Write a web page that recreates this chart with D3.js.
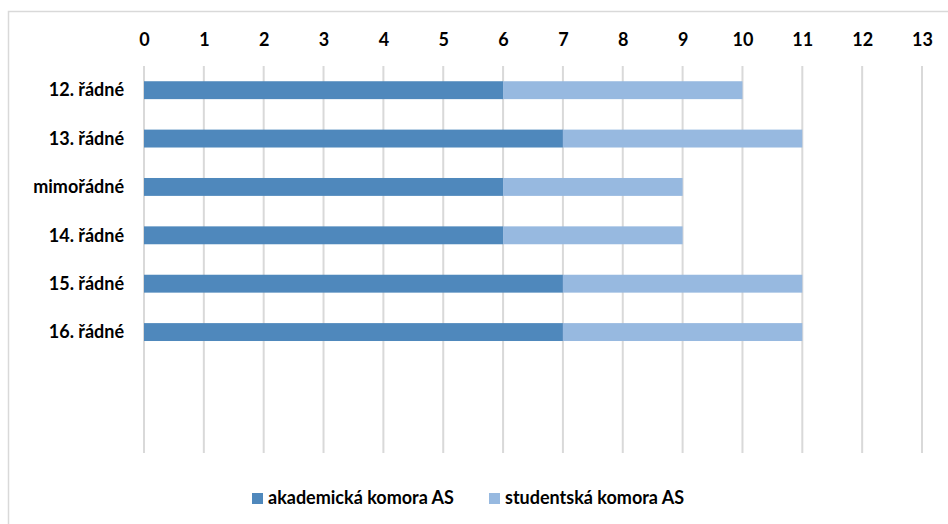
<!DOCTYPE html>
<html><head><meta charset="utf-8">
<script src="https://cdn.jsdelivr.net/npm/d3@7"></script>
<style>body{margin:0;background:#fff}svg{display:block}</style>
</head><body>
<svg id="c" width="948" height="524"></svg>
<script>
const categories = ["12. řádné","13. řádné","mimořádné","14. řádné","15. řádné","16. řádné","",""];
const akademicka = [6,7,6,6,7,7,null,null];
const studentska = [4,4,3,3,4,4,null,null];
const seriesNames = ["akademická komora AS","studentská komora AS"];
const colors = ["#4F88BC","#97B9E0"];
const ticks = d3.range(0,14);

const svg = d3.select("#c");
const font = "Lato, 'Open Sans', sans-serif";
const fs = 18;
svg.append("rect").attr("x",8.5).attr("y",11.5).attr("width",960).attr("height",540)
  .attr("fill","#fff").attr("stroke","#D9D9D9").attr("stroke-width",1.5);

const x = d3.scaleLinear().domain([0,13]).range([144,922]);
const y = d3.scaleBand().domain(d3.range(categories.length)).range([66,453]).paddingInner(0.63).paddingOuter(0.315);

const g = svg.append("g");
g.selectAll("line.grid").data(ticks).join("line").attr("class","grid")
  .attr("x1",d=>x(d)).attr("x2",d=>x(d)).attr("y1",66).attr("y2",453)
  .attr("stroke","#D9D9D9").attr("stroke-width",2);

const axis = d3.axisTop(x).tickValues(ticks).tickSize(0).tickPadding(0);
const ax = svg.append("g").attr("transform","translate(0,46)").call(axis);
ax.select(".domain").remove();
ax.selectAll("text").attr("font-family",font).attr("font-weight","bold").attr("font-size",fs).attr("fill","#000");

const rows = categories.map((c,i)=>({i, a:akademicka[i], s:studentska[i]})).filter(d=>d.a!=null);
g.selectAll("rect.a").data(rows).join("rect").attr("class","a")
  .attr("x",x(0)).attr("y",d=>y(d.i)).attr("height",y.bandwidth())
  .attr("width",d=>x(d.a)-x(0)).attr("fill",colors[0]);
g.selectAll("rect.s").data(rows).join("rect").attr("class","s")
  .attr("x",d=>x(d.a)).attr("y",d=>y(d.i)).attr("height",y.bandwidth())
  .attr("width",d=>x(d.a+d.s)-x(d.a)).attr("fill",colors[1]);

svg.append("g").selectAll("text").data(categories).join("text")
  .attr("x",124).attr("y",(d,i)=>y(i)+y.bandwidth()/2).attr("dy","0.35em")
  .attr("text-anchor","end").attr("font-family",font).attr("font-weight","bold")
  .attr("font-size",fs).attr("fill","#000").text(d=>d);

const leg = svg.append("g");
const legX = [252, 489];
seriesNames.forEach((n,i)=>{
  leg.append("rect").attr("x",legX[i]).attr("y",493).attr("width",11).attr("height",11).attr("fill",colors[i]);
  leg.append("text").attr("x",legX[i]+16).attr("y",498).attr("dy","0.35em")
    .attr("font-family",font).attr("font-weight","bold").attr("font-size",fs).attr("fill","#000").text(n);
});
</script>
</body></html>
